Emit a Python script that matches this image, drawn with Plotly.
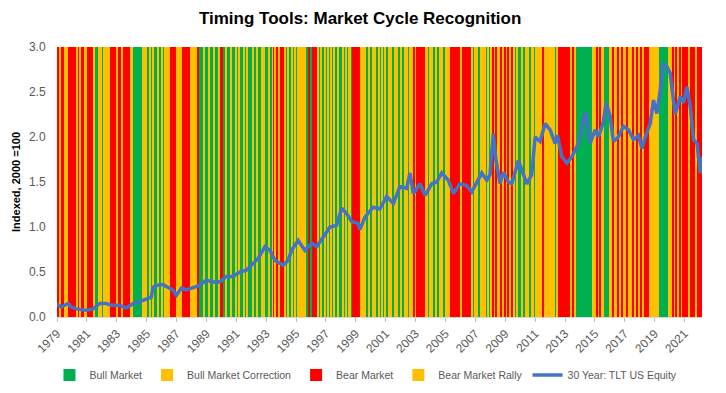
import plotly.graph_objects as go

# ---------------- data ----------------
start_year = 1979
# monthly regime codes per year: G=Bull Market, C=Bull Market Correction, R=Bear Market, Y=Bear Market Rally
regime_years = [
    "RRYRRRYYYRRR", "RRRRYRYRRRYY", "RRRRRYGGGCCC", "GCGCCCCRRRRR", "YRRRYRRRRRRY",
    "CGGGGGGGGCCC", "GGCGGCGGGCGG", "CGCCGCCRRRRR", "YYYYRRRRRRRY", "CGCCGRGGGGCG",
    "GGCGGGCGGGCR", "RGGCGGGCGGGC", "GGCGGGCGCGGG", "GCGGCGGGCGCG", "GGCGGCRYRRYR",
    "RRRYGCGGCGGC", "GCGCCCCCGGRG", "GRRRRCGGCGGC", "GCGGCGCGGCGG", "GCGGCGCCGRRR",
    "RRRRYCGCGGCG", "GCGCGGCGGCGC", "GGCGCGGCGCGG", "CGGCGCGCGCRC", "GRRRRRRCGCGC",
    "GCGGCGGCGCGG", "CGCCRRRRRRRR", "YCRRRRRRRYGC", "GCGGCGCCGGCG", "CCRCRCCCRCCR",
    "CCRCCRCCGCGG", "GCGGCGCGGCCG", "CCGCCCRCCGCC", "CGCCGCCRRRRR", "RRCRCCRCCGGG",
    "GGGGGGGGGGCC", "CRCCRCCGGGGG", "CCRCCCRCCRCC", "CRCCCCRRYRRY", "RRYRRRRCGCCG",
    "CCCGGGGGGGGC", "CCRCCRCCRCRR", "RRRYRRRRRYRR", "RR",
]
regime_names = {"G": "Bull Market", "C": "Bull Market Correction",
                "R": "Bear Market", "Y": "Bear Market Rally"}
regime_colors = {"G": "#00B050", "C": "#FFC000", "R": "#FF0000", "Y": "#FFC000"}

tlt_x = [
    1979.00, 1979.29, 1979.51, 1979.74, 1979.96, 1980.30, 1980.97, 1981.41, 1981.86, 1982.30,
    1982.64, 1983.20, 1983.64, 1984.09, 1984.53, 1984.98, 1985.31, 1985.42, 1985.65, 1986.09,
    1986.43, 1986.76, 1986.99, 1987.32, 1987.66, 1988.10, 1988.55, 1988.99, 1989.44, 1989.89,
    1990.33, 1990.78, 1991.23, 1991.67, 1991.90, 1992.46, 1992.91, 1993.25, 1993.58, 1994.14,
    1994.47, 1994.70, 1995.14, 1995.59, 1996.04, 1996.37, 1996.82, 1997.27, 1997.71, 1998.05,
    1998.38, 1998.72, 1999.16, 1999.27, 1999.61, 2000.17, 2000.61, 2001.06, 2001.51, 2001.95,
    2002.40, 2002.62, 2002.85, 2003.29, 2003.63, 2004.08, 2004.41, 2004.75, 2005.19, 2005.53,
    2005.97, 2006.42, 2006.76, 2007.31, 2007.43, 2007.76, 2007.98, 2008.20, 2008.38, 2008.65,
    2008.87, 2009.21, 2009.43, 2009.88, 2010.21, 2010.44, 2010.77, 2011.00, 2011.33, 2011.67,
    2012.00, 2012.34, 2012.49, 2012.79, 2013.12, 2013.46, 2013.90, 2014.35, 2014.68, 2015.02,
    2015.24, 2015.57, 2015.75, 2016.02, 2016.24, 2016.57, 2016.91, 2017.25, 2017.58, 2017.92,
    2018.14, 2018.37, 2018.70, 2018.92, 2019.15, 2019.37, 2019.55, 2019.82, 2020.04, 2020.37,
    2020.71, 2020.93, 2021.16, 2021.38, 2021.60, 2021.83, 2022.05, 2022.16,
]
tlt_y = [
    0.15, 0.11, 0.13, 0.15, 0.11, 0.09, 0.075, 0.09, 0.15, 0.15,
    0.13, 0.13, 0.10, 0.15, 0.17, 0.20, 0.22, 0.33, 0.35, 0.36,
    0.33, 0.30, 0.24, 0.32, 0.30, 0.32, 0.35, 0.41, 0.39, 0.39,
    0.45, 0.45, 0.50, 0.52, 0.56, 0.65, 0.78, 0.74, 0.63, 0.575,
    0.63, 0.74, 0.85, 0.74, 0.82, 0.78, 0.89, 1.00, 1.02, 1.21,
    1.15, 1.06, 1.04, 0.97, 1.11, 1.22, 1.20, 1.34, 1.26, 1.45,
    1.43, 1.60, 1.37, 1.48, 1.35, 1.48, 1.50, 1.60, 1.52, 1.37,
    1.48, 1.46, 1.39, 1.58, 1.60, 1.52, 1.58, 2.04, 1.74, 1.48,
    1.61, 1.50, 1.48, 1.74, 1.60, 1.48, 1.58, 2.00, 1.95, 2.15,
    2.08, 1.93, 2.02, 1.78, 1.71, 1.78, 1.93, 2.28, 1.93, 2.08,
    2.00, 2.17, 2.38, 2.23, 1.95, 2.00, 2.12, 2.08, 1.97, 2.02,
    1.87, 2.00, 2.15, 2.41, 2.26, 2.52, 2.82, 2.78, 2.71, 2.25,
    2.45, 2.38, 2.56, 2.34, 1.97, 1.93, 1.60, 1.78,
]
tick_years = list(range(1979, 2022, 2))
tick_labels = [str(y) for y in tick_years]
y_max = 3.0

# ---------------- figure ----------------
months = []
codes = []
for yi, s in enumerate(regime_years):
    assert len(s) == 12 or yi == len(regime_years) - 1, (yi, s)
    for mi, c in enumerate(s):
        months.append(start_year + yi + (mi + 0.5) / 12)
        codes.append(c)

fig = go.Figure()
for code in ["G", "C", "R", "Y"]:
    xs = [m for m, c in zip(months, codes) if c == code]
    fig.add_trace(go.Bar(
        x=xs, y=[y_max] * len(xs), width=[1 / 12 + 0.002] * len(xs),
        name=regime_names[code], marker=dict(color=regime_colors[code], line=dict(width=0)),
        hoverinfo="skip",
    ))

fig.add_trace(go.Scatter(
    x=tlt_x, y=tlt_y, mode="lines", name="30 Year: TLT US Equity",
    line=dict(color="#4472C4", width=3.5),
))

x_end = start_year + len(months) / 12

fig.update_layout(
    width=726, height=393,
    margin=dict(l=49, r=32, t=39, b=84),
    paper_bgcolor="white", plot_bgcolor="white",
    barmode="overlay", bargap=0,
    title=dict(text="<b>Timing Tools: Market Cycle Recognition</b>", x=0.485, xanchor="center",
               y=0.975, yanchor="middle",
               font=dict(family="Liberation Sans, Arial", size=17, color="#000000")),
    font=dict(family="Liberation Sans, Arial", color="#595959"),
    legend=dict(orientation="h", x=0.479, xanchor="center", yref="container", y=0.066,
                yanchor="middle",
                font=dict(size=10.5, color="#595959"), traceorder="normal",
                itemwidth=30, tracegroupgap=0),
    showlegend=True,
)
fig.update_xaxes(
    range=[start_year, x_end], tickmode="array", tickvals=tick_years, ticktext=tick_labels,
    tickangle=-45, tickfont=dict(size=12, color="#595959"),
    ticks="outside", ticklen=4, tickcolor="#BFBFBF", showgrid=False,
    showline=True, linecolor="#D9D9D9", zeroline=False, automargin=False,
)
fig.update_yaxes(
    range=[0, y_max], dtick=0.5, tickformat=".1f", tickfont=dict(size=12, color="#595959"),
    showgrid=False, zeroline=False, automargin=False,
    ticks="outside", ticklen=8, tickcolor="rgba(0,0,0,0)",
    title=dict(text="<b>Indexed, 2000 =100</b>", font=dict(size=11, color="#000000"), standoff=6),
)

fig.write_html("out.html")
